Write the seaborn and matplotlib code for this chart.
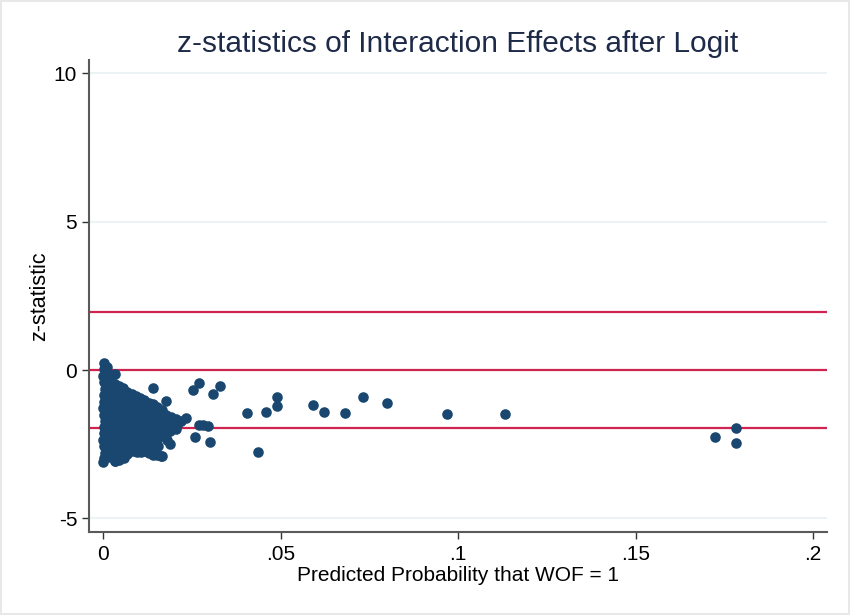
import pandas as pd
import matplotlib
matplotlib.use("Agg")
import matplotlib.pyplot as plt
import seaborn as sns

# dense cluster of interaction effects near zero probability
cluster_prob = [
    0.0001, 0.0003, 0.0000, 0.0002, 0.0004, 0.0001, 0.0003, 0.0000, 0.0002, 0.0004, 0.0001, 0.0003, 0.0000, 0.0002, 0.0004, 0.0001,
    0.0010, 0.0012, 0.0009, 0.0011, 0.0013, 0.0010, 0.0012, 0.0009, 0.0011, 0.0013, 0.0010, 0.0012, 0.0009, 0.0011, 0.0013,
    0.0021, 0.0023, 0.0020, 0.0022, 0.0024, 0.0021, 0.0023, 0.0020, 0.0022, 0.0024, 0.0021, 0.0023, 0.0020, 0.0022,
    0.0032, 0.0034, 0.0031, 0.0033, 0.0035, 0.0032, 0.0034, 0.0031, 0.0033, 0.0035, 0.0032, 0.0034, 0.0031, 0.0033,
    0.0044, 0.0046, 0.0043, 0.0045, 0.0047, 0.0044, 0.0046, 0.0043, 0.0045, 0.0047, 0.0044, 0.0046, 0.0043,
    0.0056, 0.0058, 0.0055, 0.0057, 0.0059, 0.0056, 0.0058, 0.0055, 0.0057, 0.0059, 0.0056, 0.0058,
    0.0068, 0.0070, 0.0067, 0.0069, 0.0071, 0.0068, 0.0070, 0.0067, 0.0069, 0.0071, 0.0068,
    0.0080, 0.0082, 0.0079, 0.0081, 0.0083, 0.0080, 0.0082, 0.0079, 0.0081, 0.0083,
    0.0092, 0.0094, 0.0091, 0.0093, 0.0095, 0.0092, 0.0094, 0.0091, 0.0093, 0.0095,
    0.0104, 0.0106, 0.0103, 0.0105, 0.0107, 0.0104, 0.0106, 0.0103, 0.0105, 0.0107,
    0.0116, 0.0118, 0.0115, 0.0117, 0.0119, 0.0116, 0.0118, 0.0115, 0.0117,
    0.0128, 0.0130, 0.0127, 0.0129, 0.0131, 0.0128, 0.0130, 0.0127, 0.0129,
    0.0140, 0.0142, 0.0139, 0.0141, 0.0143, 0.0140, 0.0142, 0.0139, 0.0141,
    0.0152, 0.0154, 0.0151, 0.0153, 0.0155, 0.0152, 0.0154, 0.0151,
    0.0164, 0.0166, 0.0163, 0.0165, 0.0167, 0.0164,
    0.0176, 0.0178, 0.0175, 0.0177, 0.0179,
    0.0190, 0.0192, 0.0189, 0.0188,
    0.0205, 0.0207, 0.0204,
    0.0220, 0.0232,
]
cluster_z = [
    0.22, 0.02, -0.20, -0.42, -0.63, -0.85, -1.07, -1.28, -1.50, -1.71, -1.93, -2.14, -2.36, -2.57, -2.79, -2.98,
    0.10, -0.12, -0.35, -0.55, -0.78, -1.00, -1.20, -1.43, -1.65, -1.86, -2.08, -2.30, -2.50, -2.72, -2.93,
    -0.25, -0.38, -0.52, -0.72, -0.93, -1.15, -1.37, -1.58, -1.80, -2.01, -2.23, -2.45, -2.66, -2.88,
    -0.48, -0.62, -0.70, -0.84, -1.05, -1.27, -1.49, -1.70, -1.92, -2.14, -2.35, -2.57, -2.78, -3.08,
    -0.55, -0.72, -0.90, -1.12, -1.33, -1.55, -1.77, -1.98, -2.20, -2.42, -2.63, -2.84, -3.05,
    -0.62, -0.82, -1.02, -1.24, -1.45, -1.67, -1.89, -2.10, -2.32, -2.54, -2.75, -2.95,
    -0.75, -0.95, -1.17, -1.38, -1.60, -1.82, -2.03, -2.25, -2.47, -2.68, -2.84,
    -0.80, -1.00, -1.22, -1.44, -1.66, -1.88, -2.09, -2.31, -2.52, -2.74,
    -0.86, -1.08, -1.30, -1.52, -1.74, -1.95, -2.17, -2.39, -2.60, -2.76,
    -0.93, -1.14, -1.36, -1.58, -1.80, -2.02, -2.23, -2.45, -2.66, -2.78,
    -1.00, -1.22, -1.44, -1.65, -1.87, -2.09, -2.30, -2.52, -2.74,
    -1.10, -1.30, -1.52, -1.74, -1.96, -2.18, -2.40, -2.62, -2.80,
    -1.15, -1.38, -1.60, -1.82, -2.03, -2.25, -2.47, -2.70, -2.85,
    -1.25, -1.47, -1.69, -1.90, -2.12, -2.34, -2.55, -2.88,
    -1.35, -1.57, -1.79, -2.00, -2.22, -2.90,
    -1.50, -1.70, -1.92, -2.15, -2.35,
    -1.60, -1.82, -2.05, -2.49,
    -1.65, -1.85, -1.98,
    -1.72, -1.62,
]

# scattered points further out
tail_prob = [0.0032, 0.0000, 0.0033, 0.0141, 0.0177, 0.0254, 0.0271, 0.0310, 0.0329,
             0.0406, 0.0458, 0.0490, 0.0490, 0.0436, 0.0259, 0.0301, 0.0162,
             0.0270, 0.0282, 0.0294, 0.0591, 0.0622, 0.0681, 0.0732, 0.0800,
             0.0969, 0.1132, 0.1723, 0.1782, 0.1782]
tail_z = [-0.15, -3.10, -3.08, -0.62, -1.03, -0.69, -0.45, -0.81, -0.54,
          -1.44, -1.41, -0.92, -1.20, -2.75, -2.25, -2.44, -2.89,
          -1.84, -1.86, -1.88, -1.17, -1.41, -1.44, -0.91, -1.11,
          -1.48, -1.48, -2.25, -1.95, -2.45]

ref_lines = [1.96, 0, -1.96]
y_ticks = [-5, 0, 5, 10]
x_ticks = [0, 0.05, 0.1, 0.15, 0.2]
x_labels = ["0", ".05", ".1", ".15", ".2"]

df = pd.DataFrame({"prob": cluster_prob + tail_prob, "z": cluster_z + tail_z})

sns.set_style("white")
plt.rcParams["font.family"] = ["Liberation Sans", "DejaVu Sans"]
plt.rcParams["axes.unicode_minus"] = False

fig = plt.figure(figsize=(8.5, 6.15), dpi=100)
fig.patch.set_edgecolor("#e8e8e8")
fig.patch.set_linewidth(1.5)
ax = fig.add_axes([0.1047, 0.135, 0.8683, 0.7674])

# light gridlines at y ticks
for t in y_ticks:
    ax.axhline(t, color="#eaf2f3", lw=1.3, zorder=0)

for r in ref_lines:
    ax.axhline(r, color="#cf2350", lw=1.6, zorder=1)

sns.scatterplot(data=df, x="prob", y="z", color="#1a476f", s=58, linewidth=0,
                alpha=1, ax=ax, zorder=3)

ax.set_xlim(-0.00403, 0.2039)
ax.set_ylim(-5.46, 10.45)
ax.set_xticks(x_ticks)
ax.set_xticklabels(x_labels)
ax.set_yticks(y_ticks)

sns.despine(ax=ax)
for s in ["left", "bottom"]:
    ax.spines[s].set_color("#5a5a5a")
    ax.spines[s].set_linewidth(1.5)

ax.tick_params(axis="both", direction="out", length=5, width=1, color="#333333",
               labelsize=15, labelcolor="black", left=True, bottom=True)
ax.tick_params(axis="x", pad=4.5)
ax.tick_params(axis="y", pad=3.5)

ax.set_xlabel("Predicted Probability that WOF = 1", fontsize=15, color="black", labelpad=1)
ax.set_ylabel("z-statistic", fontsize=15.5, color="black", labelpad=3)
ax.set_title("z-statistics of Interaction Effects after Logit", fontsize=21.5,
             color="#1e2b48", pad=6)

fig.savefig("out.png", dpi=100)
